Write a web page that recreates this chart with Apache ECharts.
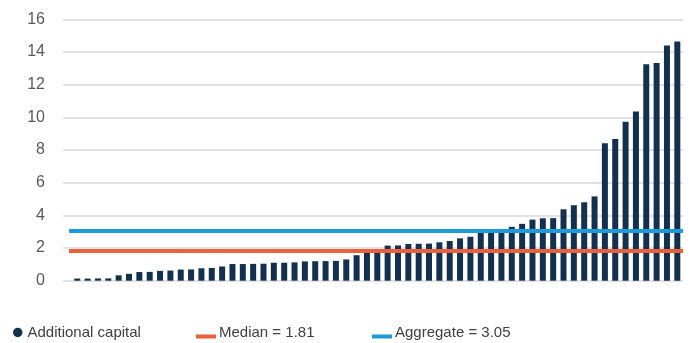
<!DOCTYPE html>
<html>
<head>
<meta charset="utf-8">
<script src="https://cdn.jsdelivr.net/npm/echarts@6/dist/echarts.min.js"></script>
<style>
  html, body { margin: 0; padding: 0; background: #ffffff; }
  #chart { width: 692px; height: 343px; }
</style>
</head>
<body>
<div id="chart"></div>
<script>
// Additional capital per bank, sorted ascending
const additionalCapital = [
  0.13, 0.13, 0.14, 0.14, 0.33, 0.42, 0.53, 0.54, 0.60, 0.62,
  0.68, 0.69, 0.76, 0.78, 0.87, 1.02, 1.02, 1.03, 1.04, 1.10,
  1.10, 1.12, 1.18, 1.19, 1.20, 1.21, 1.30, 1.56, 1.76, 1.81,
  2.15, 2.16, 2.25, 2.26, 2.27, 2.35, 2.43, 2.59, 2.69, 2.98,
  3.00, 3.01, 3.30, 3.48, 3.74, 3.82, 3.83, 4.37, 4.62, 4.80,
  5.16, 8.42, 8.67, 9.73, 10.36, 13.25, 13.33, 14.40, 14.64
];
const medianValue = 1.81;
const aggregateValue = 3.05;
const seriesNames = ['Additional capital', 'Median = 1.81', 'Aggregate = 3.05'];
const yTicks = [0, 2, 4, 6, 8, 10, 12, 14, 16];

// axis extents (domain units)
const xMin = -0.38, xMax = 59.55, lineStart = 0.2;

const barData = additionalCapital.map((v, i) => [i + 1, v]);

const chart = echarts.init(document.getElementById('chart'), null, { renderer: 'canvas' });
const font = 'Liberation Sans, Arial, Helvetica, sans-serif';

// line legend icon sitting low (near the text baseline)
const lowBarIcon = 'path://M0,0L0.01,0L0.01,0.01Z M0,8L20,8L20,12L0,12Z';

const legendBase = {
  orient: 'horizontal',
  padding: 0,
  selectedMode: false,
  textStyle: { fontFamily: font, fontSize: 15, color: '#404040' }
};

chart.setOption({
  animation: false,
  backgroundColor: '#ffffff',
  grid: { left: 63, right: 9, top: 19.3, bottom: 62.3, containLabel: false },
  xAxis: {
    type: 'value', min: xMin, max: xMax,
    axisLine: { show: false }, axisTick: { show: false },
    axisLabel: { show: false }, splitLine: { show: false }
  },
  yAxis: {
    type: 'value', min: yTicks[0], max: yTicks[yTicks.length - 1], interval: 2,
    axisLine: { show: false }, axisTick: { show: false },
    axisLabel: { fontFamily: font, fontSize: 16, color: '#595959', margin: 18 },
    splitLine: { show: true, lineStyle: { color: '#d9d9d9', width: 1.5 } }
  },
  legend: [
    Object.assign({}, legendBase, {
      left: 13, top: 325, data: [{ name: seriesNames[0], icon: 'circle' }],
      itemWidth: 9.5, itemHeight: 9.5
    }),
    Object.assign({}, legendBase, {
      left: 196, top: 325, data: [{ name: seriesNames[1], icon: lowBarIcon }],
      itemWidth: 20, itemHeight: 12, itemGap: 0,
      textStyle: Object.assign({}, legendBase.textStyle, { padding: [0, 0, 0, -2] })
    }),
    Object.assign({}, legendBase, {
      left: 372, top: 325, data: [{ name: seriesNames[2], icon: lowBarIcon }],
      itemWidth: 20, itemHeight: 12, itemGap: 0,
      textStyle: Object.assign({}, legendBase.textStyle, { padding: [0, 0, 0, -2] })
    })
  ],
  series: [
    {
      name: seriesNames[0], type: 'bar', data: barData, barWidth: 6,
      itemStyle: { color: '#14304f' }, silent: true
    },
    {
      name: seriesNames[1], type: 'line', data: [], color: '#e8603c',
      itemStyle: { color: '#e8603c', borderWidth: 0 },
      markLine: {
        silent: true, symbol: 'none', label: { show: false },
        lineStyle: { color: '#e8603c', width: 4, type: 'solid' },
        data: [[{ coord: [lineStart, medianValue] }, { coord: [xMax, medianValue] }]]
      }
    },
    {
      name: seriesNames[2], type: 'line', data: [], color: '#1b9bd7',
      itemStyle: { color: '#1b9bd7', borderWidth: 0 },
      markLine: {
        silent: true, symbol: 'none', label: { show: false },
        lineStyle: { color: '#1b9bd7', width: 4, type: 'solid' },
        data: [[{ coord: [lineStart, aggregateValue] }, { coord: [xMax, aggregateValue] }]]
      }
    }
  ]
});
</script>
</body>
</html>
